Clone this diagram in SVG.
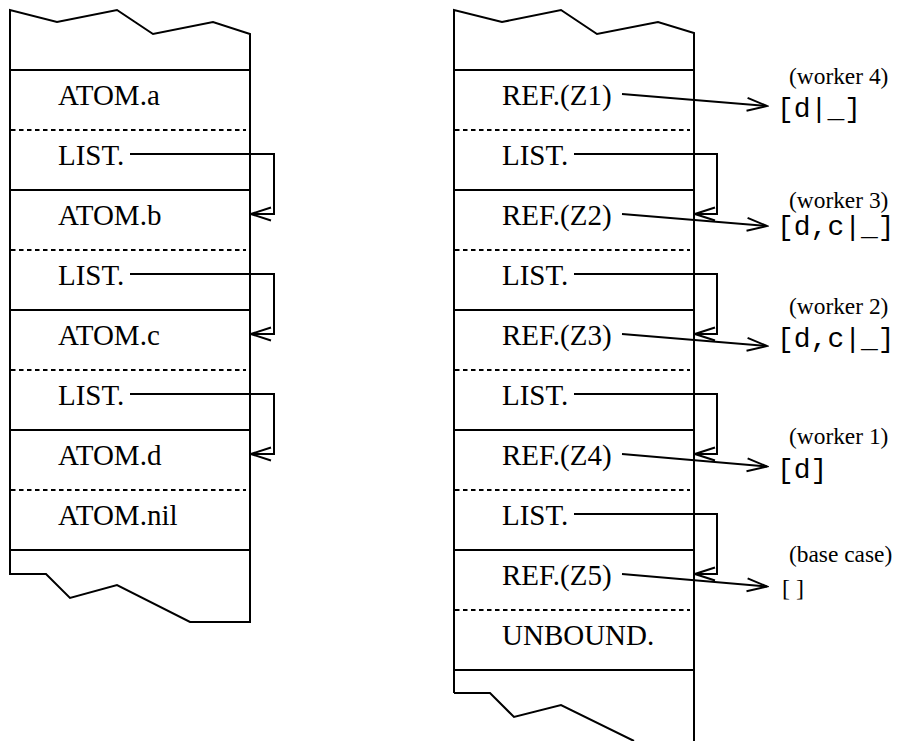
<svg xmlns="http://www.w3.org/2000/svg" width="900" height="741" viewBox="0 0 900 741">
<style>
.frame{fill:none;stroke:#000;stroke-width:2;stroke-linejoin:miter}
.solid{stroke:#000;stroke-width:2}
.dash{stroke:#000;stroke-width:2;stroke-dasharray:4.5 3.5}
.cell{font-family:"Liberation Serif","Times New Roman",serif;font-size:29px;fill:#000}
.lbl{font-family:"Liberation Serif","Times New Roman",serif;font-size:23.4px;fill:#000}
.mono{font-family:"Liberation Mono","Courier New",monospace;font-size:28px;fill:#000}
.conn{fill:none;stroke:#000;stroke-width:2}
</style>
<defs>
<marker id="ah" markerUnits="userSpaceOnUse" markerWidth="24" markerHeight="18" viewBox="-22 -9 24 18" refX="0" refY="0" orient="auto">
<path d="M-20,-6.5 L0,0 L-20,6.5" fill="none" stroke="#000" stroke-width="2"/>
</marker>
</defs>
<rect x="0" y="0" width="900" height="741" fill="#fff"/>

<g id="left-stack">
<path class="frame" d="M10,574 L10,10 L57,22 L117,10 L153,34 L213,22 L250,34 L250,622 L190,622 L117,585 L70,598 L46,574 Z"/>
<line class="solid" x1="10" y1="70" x2="250" y2="70"/>
<line class="dash" x1="11" y1="130" x2="246" y2="130"/>
<line class="solid" x1="10" y1="190" x2="250" y2="190"/>
<line class="dash" x1="11" y1="250" x2="246" y2="250"/>
<line class="solid" x1="10" y1="310" x2="250" y2="310"/>
<line class="dash" x1="11" y1="370" x2="246" y2="370"/>
<line class="solid" x1="10" y1="430" x2="250" y2="430"/>
<line class="dash" x1="11" y1="490" x2="246" y2="490"/>
<line class="solid" x1="10" y1="550" x2="250" y2="550"/>
</g>
<g id="L1"><text class="cell" x="58" y="105">ATOM.a</text></g>
<g id="L2"><text class="cell" x="58" y="165">LIST.</text></g>
<g id="L3"><text class="cell" x="58" y="225">ATOM.b</text></g>
<g id="L4"><text class="cell" x="58" y="285">LIST.</text></g>
<g id="L5"><text class="cell" x="58" y="345">ATOM.c</text></g>
<g id="L6"><text class="cell" x="58" y="405">LIST.</text></g>
<g id="L7"><text class="cell" x="58" y="465">ATOM.d</text></g>
<g id="L8"><text class="cell" x="58" y="525">ATOM.nil</text></g>

<g id="right-stack">
<path class="frame" d="M454,693 L454,10 L502,22 L561,10 L597,34 L658,22 L694,33 L694,741 M454,693 L490,693 L514,717 L561,705 L634,741"/>
<line class="solid" x1="454" y1="70" x2="694" y2="70"/>
<line class="dash" x1="455" y1="130" x2="690" y2="130"/>
<line class="solid" x1="454" y1="190" x2="694" y2="190"/>
<line class="dash" x1="455" y1="250" x2="690" y2="250"/>
<line class="solid" x1="454" y1="310" x2="694" y2="310"/>
<line class="dash" x1="455" y1="370" x2="690" y2="370"/>
<line class="solid" x1="454" y1="430" x2="694" y2="430"/>
<line class="dash" x1="455" y1="490" x2="690" y2="490"/>
<line class="solid" x1="454" y1="550" x2="694" y2="550"/>
<line class="dash" x1="455" y1="610" x2="690" y2="610"/>
<line class="solid" x1="454" y1="670" x2="694" y2="670"/>
</g>
<g id="R1"><text class="cell" x="502" y="105">REF.(Z1)</text></g>
<g id="R2"><text class="cell" x="502" y="165">LIST.</text></g>
<g id="R3"><text class="cell" x="502" y="225">REF.(Z2)</text></g>
<g id="R4"><text class="cell" x="502" y="285">LIST.</text></g>
<g id="R5"><text class="cell" x="502" y="345">REF.(Z3)</text></g>
<g id="R6"><text class="cell" x="502" y="405">LIST.</text></g>
<g id="R7"><text class="cell" x="502" y="465">REF.(Z4)</text></g>
<g id="R8"><text class="cell" x="502" y="525">LIST.</text></g>
<g id="R9"><text class="cell" x="502" y="585">REF.(Z5)</text></g>
<g id="R10"><text class="cell" x="502" y="645">UNBOUND.</text></g>

<g id="V1"><text class="lbl" x="789" y="84">(worker 4)</text><text class="mono" x="777" y="117">[d|_]</text></g>
<g id="V2"><text class="lbl" x="789" y="208">(worker 3)</text><text class="mono" x="777" y="235">[d,c|_]</text></g>
<g id="V3"><text class="lbl" x="789" y="314">(worker 2)</text><text class="mono" x="777" y="347">[d,c|_]</text></g>
<g id="V4"><text class="lbl" x="789" y="444">(worker 1)</text><text class="mono" x="777" y="478">[d]</text></g>
<g id="V5"><text class="lbl" x="789" y="562">(base case)</text><text class="lbl" x="782" y="596" style="font-size:24px">[ ]</text></g>

<g id="connectors">
<polyline class="conn" points="130,154 274,154 274,214 251,214" marker-end="url(#ah)"/>
<polyline class="conn" points="130,274 274,274 274,334 251,334" marker-end="url(#ah)"/>
<polyline class="conn" points="130,394 274,394 274,454 251,454" marker-end="url(#ah)"/>
<polyline class="conn" points="574,154 717,154 717,214 695,214" marker-end="url(#ah)"/>
<polyline class="conn" points="574,274 717,274 717,334 695,334" marker-end="url(#ah)"/>
<polyline class="conn" points="574,394 717,394 717,454 695,454" marker-end="url(#ah)"/>
<polyline class="conn" points="574,514 717,514 717,574 695,574" marker-end="url(#ah)"/>
<line class="conn" x1="622" y1="94" x2="767" y2="106" marker-end="url(#ah)"/>
<line class="conn" x1="622" y1="214" x2="767" y2="226" marker-end="url(#ah)"/>
<line class="conn" x1="622" y1="334" x2="767" y2="346" marker-end="url(#ah)"/>
<line class="conn" x1="622" y1="454" x2="767" y2="466.5" marker-end="url(#ah)"/>
<line class="conn" x1="622" y1="574" x2="767" y2="586.5" marker-end="url(#ah)"/>
</g>
</svg>
